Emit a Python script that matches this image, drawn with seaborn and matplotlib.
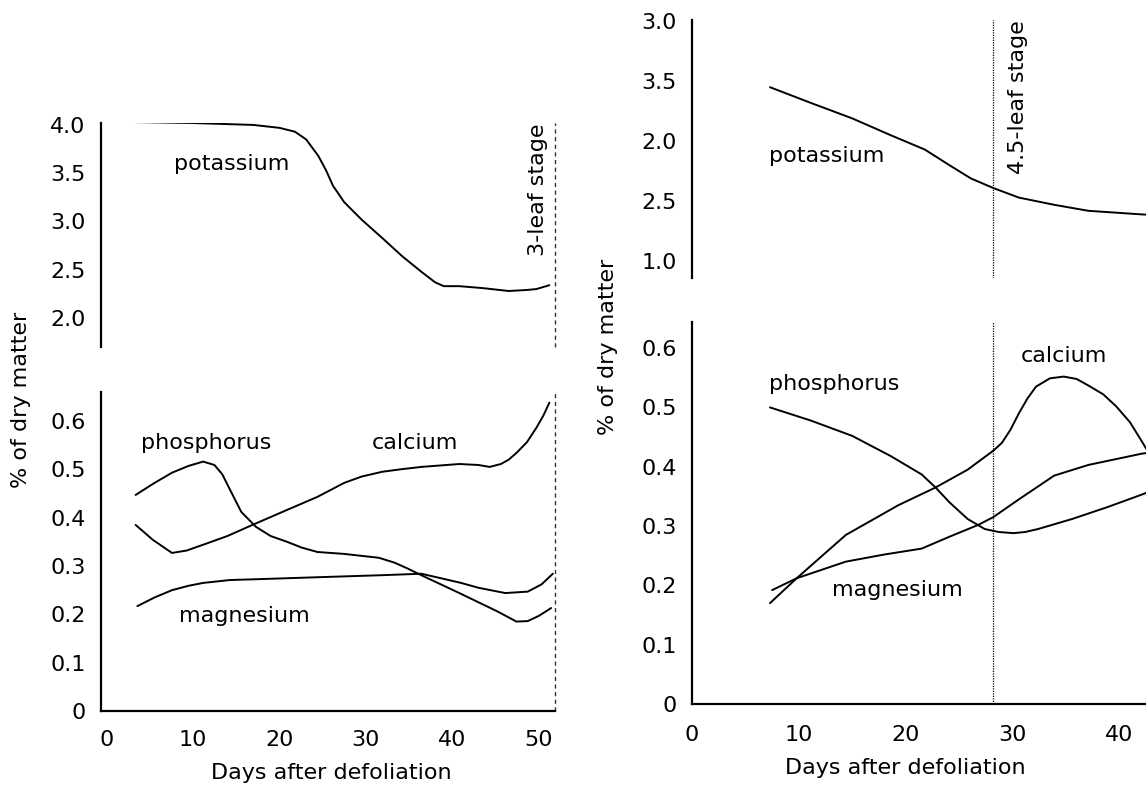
import seaborn as sns
import matplotlib.pyplot as plt
import pandas as pd

# ---- left panel (3-leaf stage) ----
lk_day = [3.2, 10.0, 17.0, 20.0, 21.8, 23.1, 24.5, 25.4, 26.2, 27.5, 29.5, 32.0, 34.2, 36.4, 38.0, 39.0, 40.8, 43.5, 46.5, 48.5, 49.7, 51.2]
lk_val = [4.03, 4.02, 4.00, 3.97, 3.93, 3.85, 3.68, 3.53, 3.37, 3.20, 3.02, 2.82, 2.64, 2.48, 2.37, 2.33, 2.33, 2.31, 2.28, 2.29, 2.30, 2.34]

lca_day = [3.4, 5.4, 7.6, 9.3, 11.2, 14.0, 16.9, 20.5, 24.4, 27.5, 29.5, 31.9, 34.0, 36.4, 40.8, 43.0, 44.3, 45.6, 46.5, 47.4, 48.6, 49.7, 50.5, 51.2]
lca_val = [0.385, 0.354, 0.327, 0.332, 0.344, 0.362, 0.385, 0.413, 0.443, 0.472, 0.485, 0.495, 0.500, 0.505, 0.511, 0.509, 0.505, 0.511, 0.520, 0.534, 0.556, 0.586, 0.611, 0.638]

lp_day = [3.4, 5.5, 7.6, 9.5, 11.2, 12.5, 13.4, 14.3, 15.6, 17.3, 19.0, 20.9, 22.6, 24.4, 27.5, 31.5, 33.3, 34.8, 36.4, 40.8, 45.2, 47.4, 48.7, 50.0, 51.4]
lp_val = [0.447, 0.471, 0.493, 0.507, 0.516, 0.509, 0.490, 0.458, 0.412, 0.381, 0.362, 0.350, 0.338, 0.329, 0.325, 0.317, 0.307, 0.295, 0.281, 0.244, 0.206, 0.185, 0.186, 0.197, 0.213]

lmg_day = [3.6, 5.6, 7.6, 9.5, 11.2, 14.3, 18.0, 23.1, 31.9, 36.4, 38.6, 41.0, 43.0, 46.1, 48.7, 50.3, 51.6]
lmg_val = [0.217, 0.235, 0.250, 0.259, 0.265, 0.271, 0.273, 0.276, 0.281, 0.284, 0.275, 0.265, 0.255, 0.244, 0.247, 0.262, 0.284]

# ---- right panel (4.5-leaf stage) ----
rk_day = [7.3, 11.1, 15.0, 18.6, 21.8, 24.1, 26.1, 28.2, 30.6, 33.9, 37.1, 42.1, 44.5]
rk_val = [2.45, 2.32, 2.19, 2.05, 1.93, 1.80, 1.69, 1.61, 1.53, 1.47, 1.42, 1.39, 1.38]

rp_day = [7.3, 11.1, 15.0, 18.6, 21.5, 22.8, 24.1, 25.8, 27.4, 28.7, 30.1, 31.2, 32.4, 35.6, 38.9, 42.1, 44.5]
rp_val = [0.500, 0.478, 0.452, 0.418, 0.387, 0.365, 0.340, 0.312, 0.295, 0.290, 0.288, 0.290, 0.295, 0.312, 0.332, 0.353, 0.370]

rca_day = [7.3, 9.8, 14.4, 19.3, 22.8, 25.8, 28.2, 29.0, 29.8, 30.6, 31.4, 32.2, 33.5, 34.8, 36.0, 37.1, 38.5, 39.7, 41.0, 42.1, 42.6]
rca_val = [0.170, 0.212, 0.285, 0.335, 0.365, 0.395, 0.427, 0.440, 0.462, 0.490, 0.515, 0.535, 0.549, 0.552, 0.548, 0.537, 0.522, 0.502, 0.475, 0.443, 0.428]

rmg_day = [7.5, 9.8, 14.4, 18.0, 21.5, 24.1, 26.8, 28.2, 30.6, 33.9, 37.1, 42.1, 44.5]
rmg_val = [0.192, 0.212, 0.240, 0.252, 0.262, 0.282, 0.302, 0.315, 0.345, 0.385, 0.403, 0.422, 0.428]

left_top_ticks = [2.0, 2.5, 3.0, 3.5, 4.0]
right_top_ticks = [1.0, 1.5, 2.0, 2.5, 3.0]
right_top_labels = ["1.0", "2.5", "2.0", "3.5", "3.0"]
low_ticks = [0, 0.1, 0.2, 0.3, 0.4, 0.5, 0.6]
low_labels = ["0", "0.1", "0.2", "0.3", "0.4", "0.5", "0.6"]

sns.set_theme(style="white")
plt.rcParams['font.family'] = ['DejaVu Sans']
plt.rcParams['text.color'] = 'black'
FS = 16

fig = plt.figure(figsize=(11.46, 7.85), dpi=100)
W, H = 1146, 785
def box(x0, x1, y0, y1):
    return [x0 / W, 1 - y1 / H, (x1 - x0) / W, (y1 - y0) / H]

ax_lt = fig.add_axes(box(101, 555, 123, 347))
ax_lb = fig.add_axes(box(101, 555, 392, 711))
ax_rt = fig.add_axes(box(692, 1146, 20, 278))
ax_rb = fig.add_axes(box(692, 1146, 322, 704))

def curve(ax, d, v):
    df = pd.DataFrame({"day": d, "val": v})
    sns.lineplot(data=df, x="day", y="val", ax=ax, color="black", lw=1.4,
                 sort=False, estimator=None)

curve(ax_lt, lk_day, lk_val)
curve(ax_lb, lca_day, lca_val)
curve(ax_lb, lp_day, lp_val)
curve(ax_lb, lmg_day, lmg_val)
curve(ax_rt, rk_day, rk_val)
curve(ax_rb, rp_day, rp_val)
curve(ax_rb, rca_day, rca_val)
curve(ax_rb, rmg_day, rmg_val)

ax_lt.set_xlim(-0.6, 51.85); ax_lt.set_ylim(1.70, 4.02)
ax_lb.set_xlim(-0.6, 51.85); ax_lb.set_ylim(0, 0.66)
ax_rt.set_xlim(0, 42.5); ax_rt.set_ylim(0.86, 3.01)
ax_rb.set_xlim(0, 42.5); ax_rb.set_ylim(0, 0.644)

for ax in (ax_lt, ax_lb, ax_rt, ax_rb):
    ax.set_xlabel(""); ax.set_ylabel("")
    for s in ("top", "right"):
        ax.spines[s].set_visible(False)
    ax.spines["left"].set_color("black"); ax.spines["left"].set_linewidth(1.6)
    ax.spines["bottom"].set_color("black"); ax.spines["bottom"].set_linewidth(1.6)
    ax.tick_params(length=0, labelsize=FS, colors="black")
    ax.tick_params(axis="y", pad=11)

for ax in (ax_lt, ax_rt):
    ax.spines["bottom"].set_visible(False)
    ax.set_xticks([])

ax_lt.set_yticks(left_top_ticks)
ax_lt.set_yticklabels([f"{t:.1f}" for t in left_top_ticks])
ax_rt.set_yticks(right_top_ticks)
ax_rt.set_yticklabels(right_top_labels)
for ax in (ax_lb, ax_rb):
    ax.set_yticks(low_ticks)
    ax.set_yticklabels(low_labels)
ax_lb.set_xticks([0, 10, 20, 30, 40, 50])
ax_rb.set_xticks([0, 10, 20, 30, 40])
ax_lb.tick_params(axis="x", pad=14)
ax_rb.tick_params(axis="x", pad=15)

# stage markers
for ax in (ax_lt, ax_lb):
    ax.axvline(51.85, color="#333333", lw=1.0, ls=(0, (3, 2.5)), clip_on=False)
for ax in (ax_rt, ax_rb):
    ax.axvline(28.2, color="black", lw=0.9, ls=(0, (1, 1)))

ax_lt.text(49.9, 4.02, "3-leaf stage", rotation=90, ha="center", va="top", fontsize=FS)
ax_rt.text(30.5, 3.01, "4.5-leaf stage", rotation=90, ha="center", va="top", fontsize=FS)

ax_lt.text(14.5, 3.60, "potassium", ha="center", va="center", fontsize=FS)
ax_lb.text(11.5, 0.555, "phosphorus", ha="center", va="center", fontsize=FS)
ax_lb.text(35.7, 0.555, "calcium", ha="center", va="center", fontsize=FS)
ax_lb.text(16.0, 0.197, "magnesium", ha="center", va="center", fontsize=FS)

ax_rt.text(12.6, 1.88, "potassium", ha="center", va="center", fontsize=FS)
ax_rb.text(13.3, 0.540, "phosphorus", ha="center", va="center", fontsize=FS)
ax_rb.text(34.8, 0.587, "calcium", ha="center", va="center", fontsize=FS)
ax_rb.text(19.2, 0.193, "magnesium", ha="center", va="center", fontsize=FS)

fig.text(21 / W, 1 - 400 / H, "% of dry matter", rotation=90, ha="center", va="center", fontsize=FS)
fig.text(608 / W, 1 - 347 / H, "% of dry matter", rotation=90, ha="center", va="center", fontsize=FS)
fig.text(331 / W, 1 - 773 / H, "Days after defoliation", ha="center", va="center", fontsize=FS)
fig.text(905 / W, 1 - 768 / H, "Days after defoliation", ha="center", va="center", fontsize=FS)

fig.savefig("out.png", dpi=100, facecolor="white")
